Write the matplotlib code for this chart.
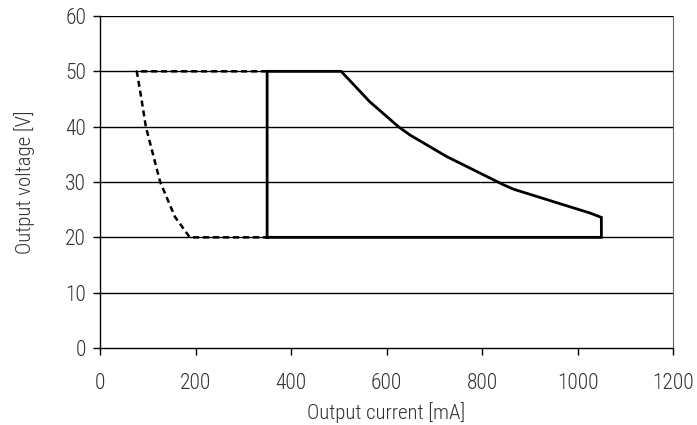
import matplotlib
matplotlib.use("Agg")
import matplotlib.pyplot as plt
from matplotlib import font_manager

fl = font_manager.fontManager.ttflist
names = {f.name for f in fl}
pref = ['Roboto Condensed', 'Liberation Sans Narrow', 'Open Sans Condensed',
        'Noto Sans Condensed', 'DejaVu Sans Condensed']
chosen = 'DejaVu Sans'
for p in pref:
    if p in names:
        chosen = p
        break
plt.rcParams['font.family'] = [chosen, 'DejaVu Sans']
has_light = any(f.name == chosen and f.weight in (300, 'light') for f in fl)
weight = 'light' if has_light else 'normal'

# Solid outline (operating area)
solid_x = [350, 350, 505, 565, 625, 649, 726, 845, 866, 970, 1026, 1050, 1050, 350]
solid_y = [20, 50, 50, 44.5, 40.0, 38.5, 34.6, 29.5, 28.7, 25.9, 24.4, 23.6, 20, 20]

# Dashed outline
dash_x = [350, 77, 87, 96, 126, 157, 188, 350]
dash_y = [50, 50, 44.9, 40, 30, 23.7, 20, 20]

xticks = [0, 200, 400, 600, 800, 1000, 1200]
yticks = [0, 10, 20, 30, 40, 50, 60]

fig = plt.figure(figsize=(6.97, 4.25), dpi=100)
ax = fig.add_axes([100/697, 77/425, 573/697, 332/425])

for y in yticks[1:]:
    ax.axhline(y, color='black', lw=1.0, zorder=1)

ax.plot(dash_x, dash_y, color='black', lw=1.8, ls=(0, (2.4, 1.6)), zorder=3)
ax.plot(solid_x, solid_y, color='black', lw=2.0, zorder=4, solid_joinstyle='miter')

ax.set_xlim(0, 1200)
ax.set_ylim(0, 60)
ax.set_xticks(xticks)
ax.set_yticks(yticks)
ax.tick_params(axis='both', direction='out', length=5, width=1, colors='black', labelsize=15.5)
ax.tick_params(axis='x', pad=13)
ax.tick_params(axis='y', pad=5)
ax.spines['top'].set_visible(False)
ax.spines['right'].set_color('#666666')
ax.spines['right'].set_linewidth(0.8)
ax.spines['left'].set_linewidth(1.0)
ax.spines['bottom'].set_linewidth(1.0)

ax.set_xlabel('Output current [mA]', fontsize=15, color='#333333', labelpad=6, fontweight=weight)
ax.set_ylabel('Output voltage [V]', fontsize=15, color='#333333', labelpad=22, fontweight=weight)
for lbl in ax.get_xticklabels() + ax.get_yticklabels():
    lbl.set_color('#333333')
    lbl.set_fontweight(weight)

fig.savefig('out.png', dpi=100)
